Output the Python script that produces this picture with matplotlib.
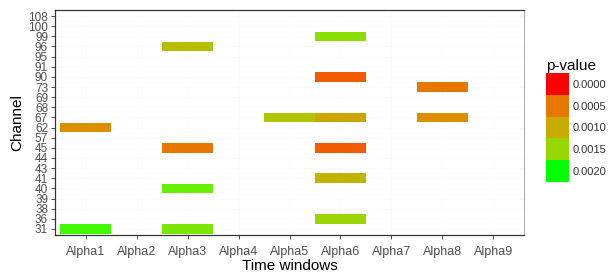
import numpy as np
import matplotlib
matplotlib.use("Agg")
from matplotlib import pyplot as plt
from matplotlib.colors import ListedColormap, Normalize

plt.rcParams['font.family'] = ['Liberation Sans', 'DejaVu Sans']

# channels, bottom to top (discrete axis)
channels = [31, 36, 38, 39, 40, 41, 43, 44, 45, 57, 62,
            67, 68, 69, 73, 90, 91, 95, 96, 99, 100, 108]
windows = ["Alpha1", "Alpha2", "Alpha3", "Alpha4", "Alpha5",
           "Alpha6", "Alpha7", "Alpha8", "Alpha9"]

# significant cells
cell_window = ["Alpha1", "Alpha1", "Alpha3", "Alpha3", "Alpha3", "Alpha3",
               "Alpha5", "Alpha6", "Alpha6", "Alpha6", "Alpha6", "Alpha6",
               "Alpha6", "Alpha8", "Alpha8"]
cell_channel = [62, 31, 96, 45, 40, 31,
                67, 67, 99, 90, 45, 41,
                36, 73, 67]
cell_pvalue = [0.00070, 0.00192, 0.00120, 0.00050, 0.00180, 0.00170,
               0.00128, 0.00095, 0.00160, 0.00030, 0.00030, 0.00110,
               0.00148, 0.00050, 0.00072]

legend_breaks = [0.0000, 0.0005, 0.0010, 0.0015, 0.0020]


def srgb_to_lab(rgb):
    rgb = np.asarray(rgb, dtype=float)
    c = np.where(rgb <= 0.04045, rgb / 12.92, ((rgb + 0.055) / 1.055) ** 2.4)
    m = np.array([[0.4124, 0.3576, 0.1805],
                  [0.2126, 0.7152, 0.0722],
                  [0.0193, 0.1192, 0.9505]])
    xyz = m @ c / np.array([0.95047, 1.0, 1.08883])
    f = np.where(xyz > 0.008856, np.cbrt(xyz), 7.787 * xyz + 16 / 116)
    return np.array([116 * f[1] - 16, 500 * (f[0] - f[1]), 200 * (f[1] - f[2])])


def lab_to_srgb(lab):
    L, a, b = lab
    fy = (L + 16) / 116
    fx = fy + a / 500
    fz = fy - b / 200
    f = np.array([fx, fy, fz])
    xyz = np.where(f ** 3 > 0.008856, f ** 3, (f - 16 / 116) / 7.787)
    xyz = xyz * np.array([0.95047, 1.0, 1.08883])
    minv = np.array([[3.2406, -1.5372, -0.4986],
                     [-0.9689, 1.8758, 0.0415],
                     [0.0557, -0.2040, 1.0570]])
    c = minv @ xyz
    c = np.clip(c, 0, 1)
    s = np.where(c <= 0.0031308, 12.92 * c, 1.055 * c ** (1 / 2.4) - 0.055)
    return np.clip(s, 0, 1)


# red -> green gradient interpolated in Lab (like ggplot)
low = srgb_to_lab([1, 0, 0])
high = srgb_to_lab([0, 1, 0])
cols = [lab_to_srgb(low + (high - low) * t) for t in np.linspace(0, 1, 256)]
cmap = ListedColormap(cols)
norm = Normalize(vmin=0.0, vmax=0.002, clip=True)

fig = plt.figure(figsize=(6.11, 2.73), dpi=100)
ax = fig.add_axes([55 / 611, 38 / 273, 469 / 611, 225 / 273])

xi = [windows.index(w) for w in cell_window]
yi = [channels.index(c) for c in cell_channel]
ax.bar(xi, 0.95, bottom=np.array(yi) - 0.475, width=1.0,
       color=[cmap(norm(p)) for p in cell_pvalue], linewidth=0, zorder=3)

ax.set_xlim(-0.6, len(windows) - 0.4)
ax.set_ylim(-0.6, len(channels) - 0.4)
ax.set_xticks(range(len(windows)))
ax.set_xticklabels(windows)
ax.set_yticks(range(len(channels)))
ax.set_yticklabels([str(c) for c in channels])
ax.tick_params(axis='both', colors='#333333', length=3, width=0.6,
               labelsize=9, labelcolor='#4D4D4D', pad=2)
ax.tick_params(axis='y', labelsize=8.5)
ax.tick_params(axis='x', pad=5)
ax.set_axisbelow(True)
ax.grid(True, color='#F8F8F8', linewidth=0.5)
for side in ['left', 'bottom', 'top']:
    ax.spines[side].set_color('#333333')
    ax.spines[side].set_linewidth(0.9)
ax.spines['right'].set_color('#999999')
ax.spines['right'].set_linewidth(0.6)

ax.set_xlabel("Time windows", fontsize=11, color='black', labelpad=1)
ax.set_ylabel("Channel", fontsize=11, color='black', labelpad=3)

# legend keys
lax = fig.add_axes([546 / 611, 91 / 273, 23 / 611, 109 / 273])
ks = np.arange(len(legend_breaks))[::-1]
lax.barh(ks, 1.0, height=1.0, color=[cmap(norm(b)) for b in legend_breaks],
         linewidth=0)
lax.set_xlim(0, 1)
lax.set_ylim(-0.5, len(legend_breaks) - 0.5)
lax.set_xticks([])
lax.set_yticks(ks)
lax.set_yticklabels(["%.4f" % b for b in legend_breaks])
lax.yaxis.tick_right()
lax.tick_params(axis='y', length=0, labelsize=8, labelcolor='#333333', pad=2.5)
for s in lax.spines.values():
    s.set_visible(False)
lax.set_title("p-value", fontsize=11, loc='left', pad=2)

fig.savefig("out.png", dpi=100)
